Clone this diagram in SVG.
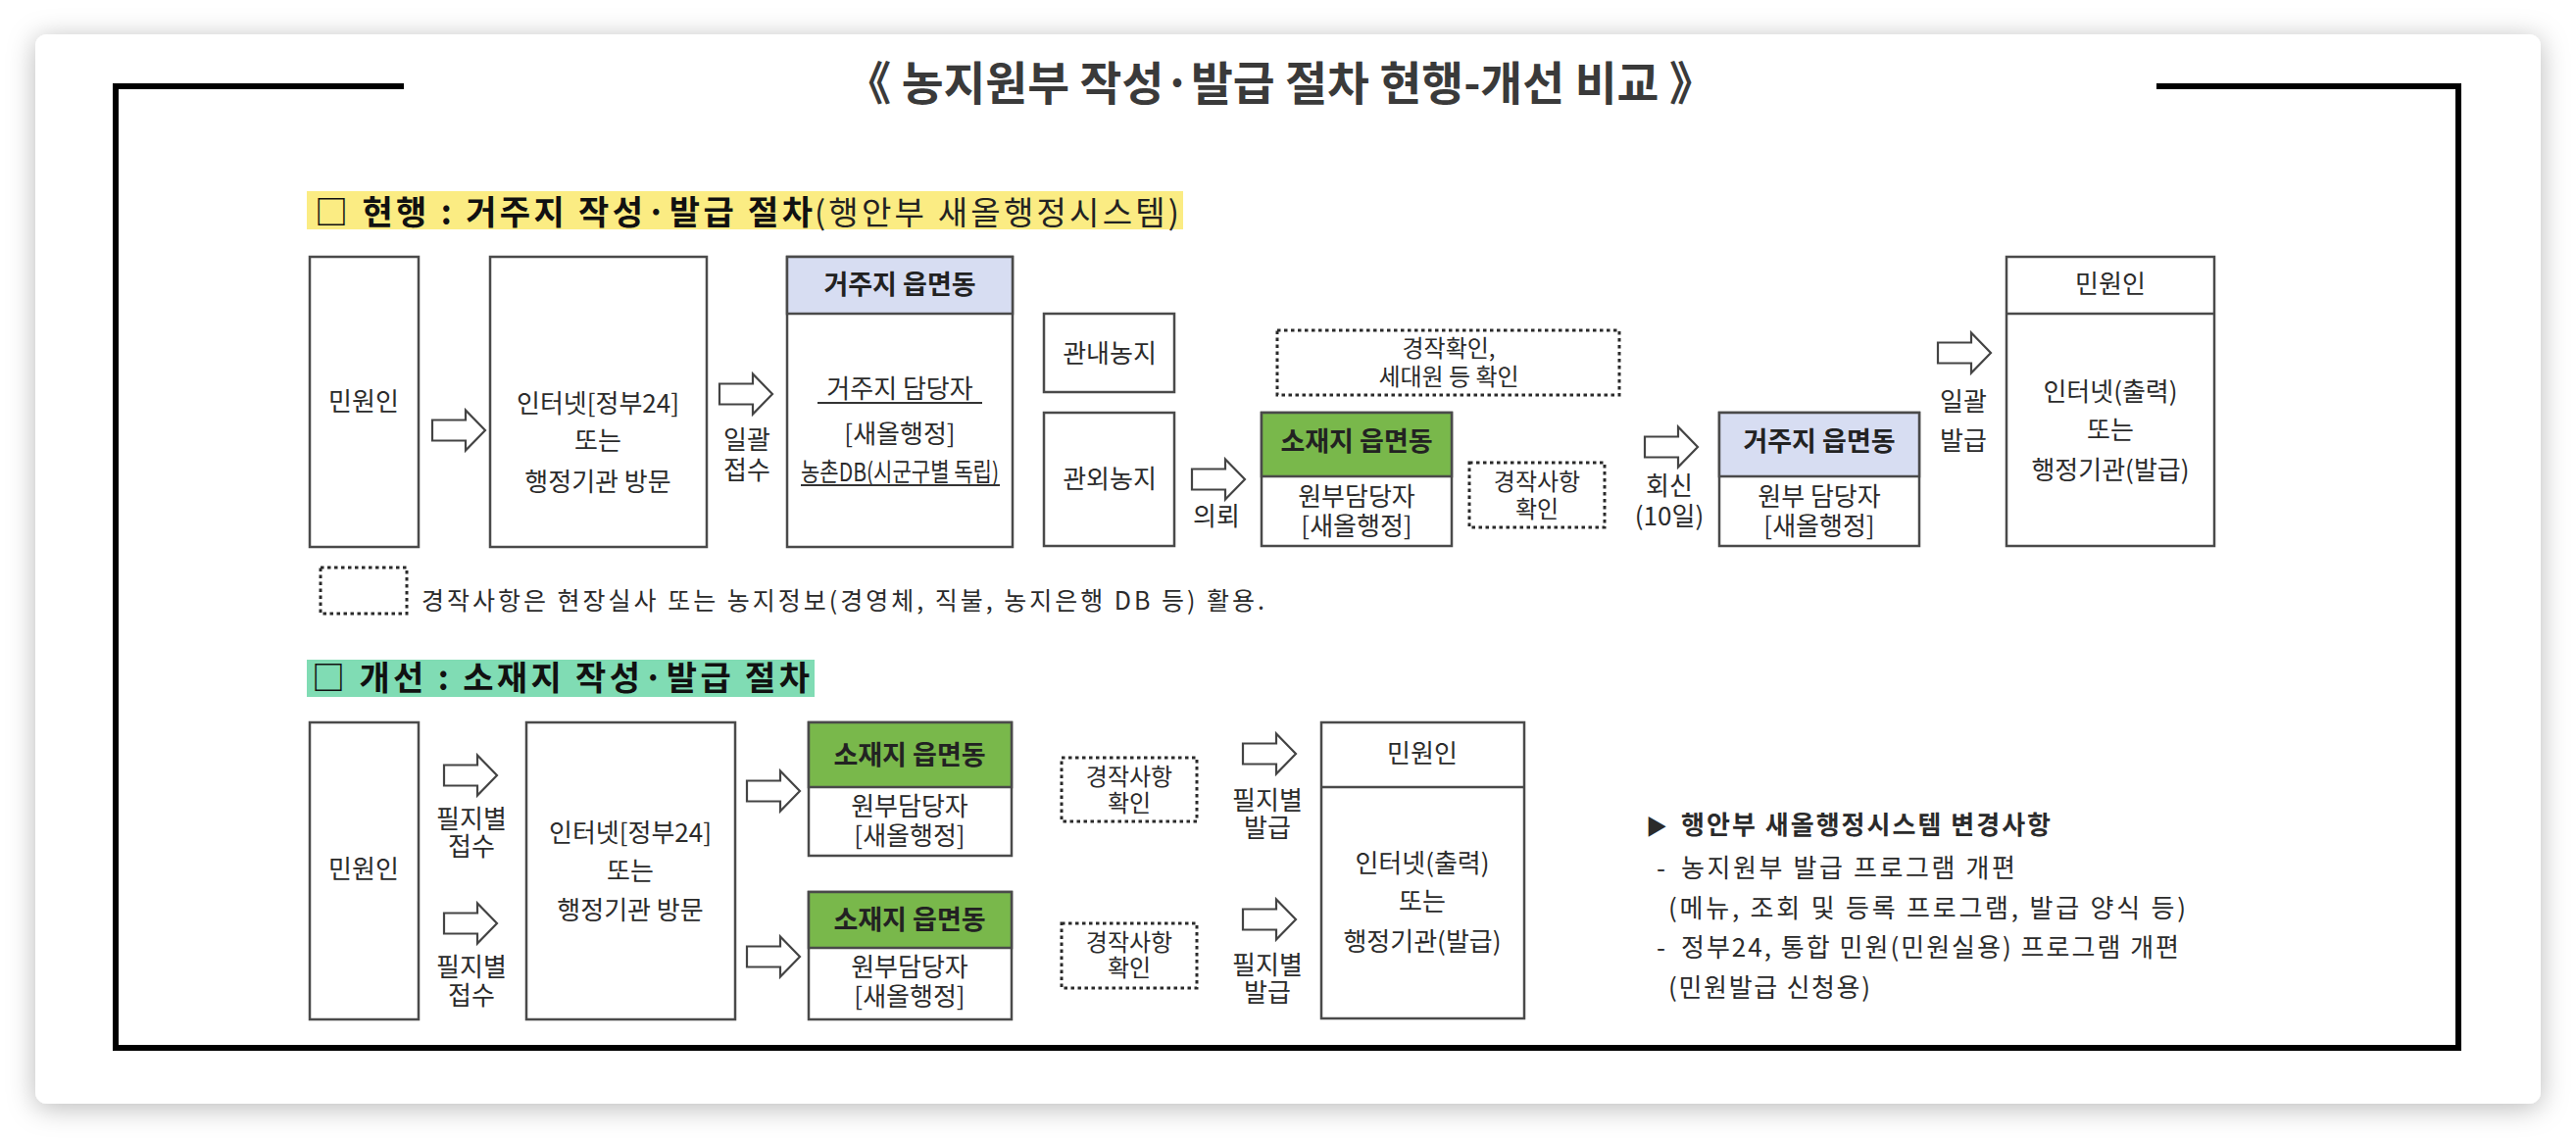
<svg xmlns="http://www.w3.org/2000/svg" width="2628" height="1162" viewBox="0 0 2628 1162">
<defs>
<filter id="sh" x="-5%" y="-10%" width="110%" height="120%">
<feDropShadow dx="0" dy="4" stdDeviation="14" flood-color="#000" flood-opacity="0.28"/>
</filter>
<path id="arr" d="M0,-10.5 H34 V-20.5 L54,0 L34,20.5 V10.5 H0 Z" fill="#fff" stroke="#444" stroke-width="2.2" stroke-linejoin="miter"/>
<style>
.t{font-family:"Noto Sans CJK KR","Noto Sans",sans-serif;font-size:26px;fill:#2b2b2b;text-anchor:middle}
.s{text-anchor:start}
.b{font-weight:bold}
.hd{font-size:27px;font-weight:bold;fill:#222}
.sm{font-size:24px}
.box{fill:#fff;stroke:#4a4a4a;stroke-width:2.5}
.dot{fill:none;stroke:#2a2a2a;stroke-width:3;stroke-dasharray:3.5 3.5}
.ul{stroke:#333;stroke-width:2}
.blue{fill:#d7ddf2;stroke:#4a4a4a;stroke-width:2.5}
.green{fill:#79b84b;stroke:#4a4a4a;stroke-width:2.5}
</style>
</defs>
<rect width="2628" height="1162" fill="#ffffff"/>
<rect x="36" y="35" width="2556" height="1091" rx="12" fill="#fff" filter="url(#sh)"/>
<path d="M412,88 H118 V1069 H2508 V88 H2200" fill="none" stroke="#000" stroke-width="6"/>
<text class="t b" x="1306" y="102" textLength="887" lengthAdjust="spacingAndGlyphs" style="font-size:47px;fill:#3a3a3a">《 농지원부 작성·발급 절차 현행-개선 비교 》</text>

<g id="heading1">
<rect x="313" y="195" width="894" height="39" fill="#fbec83"/>
<text class="t s b" x="321" y="229" style="font-size:34px;fill:#111" textLength="508" lengthAdjust="spacing">□ 현행 : 거주지 작성·발급 절차</text>
<text class="t s" x="831" y="229" style="font-size:33px;fill:#222" textLength="372" lengthAdjust="spacing">(행안부 새올행정시스템)</text>
</g>

<g id="s1-minwon">
<rect class="box" x="316" y="262" width="111" height="296"/>
<text class="t" x="371" y="419">민원인</text>
</g>
<g id="s1-internet">
<rect class="box" x="500" y="262" width="221" height="296"/>
<text class="t" x="610" y="421">인터넷[정부24]</text>
<text class="t" x="610" y="459">또는</text>
<text class="t" x="610" y="501">행정기관 방문</text>
</g>
<g id="s1-geoju">
<rect class="box" x="803" y="262" width="230" height="296"/>
<rect class="blue" x="803" y="262" width="230" height="58"/>
<text class="t hd" x="918" y="300">거주지 읍면동</text>
<text class="t" x="918" y="406">거주지 담당자</text>
<line class="ul" x1="834" y1="411" x2="1002" y2="411"/>
<text class="t" x="918" y="452">[새올행정]</text>
<text class="t" x="918" y="491" textLength="202" lengthAdjust="spacingAndGlyphs">농촌DB(시군구별 독립)</text>
<line class="ul" x1="817" y1="495" x2="1020" y2="495"/>
</g>
<g id="s1-gwannae">
<rect class="box" x="1065" y="320" width="133" height="80"/>
<text class="t" x="1132" y="370">관내농지</text>
</g>
<g id="s1-gwanoe">
<rect class="box" x="1065" y="421" width="133" height="136"/>
<text class="t" x="1132" y="498">관외농지</text>
</g>
<g id="s1-check1">
<rect class="dot" x="1303" y="337" width="349" height="66"/>
<text class="t sm" x="1478" y="364">경작확인,</text>
<text class="t sm" x="1478" y="393">세대원 등 확인</text>
</g>
<g id="s1-sojae">
<rect class="box" x="1287" y="421" width="194" height="136"/>
<rect class="green" x="1287" y="421" width="194" height="65"/>
<text class="t hd" x="1384" y="460">소재지 읍면동</text>
<text class="t" x="1384" y="516">원부담당자</text>
<text class="t" x="1384" y="546">[새올행정]</text>
</g>
<g id="s1-check2">
<rect class="dot" x="1499" y="472" width="138" height="66"/>
<text class="t sm" x="1568" y="500">경작사항</text>
<text class="t sm" x="1568" y="528">확인</text>
</g>
<g id="s1-geoju2">
<rect class="box" x="1754" y="421" width="204" height="136"/>
<rect class="blue" x="1754" y="421" width="204" height="65"/>
<text class="t hd" x="1856" y="460">거주지 읍면동</text>
<text class="t" x="1856" y="516">원부 담당자</text>
<text class="t" x="1856" y="546">[새올행정]</text>
</g>
<g id="s1-minwon2">
<rect class="box" x="2047" y="262" width="212" height="295"/>
<line x1="2047" y1="320" x2="2259" y2="320" stroke="#4a4a4a" stroke-width="2.5"/>
<text class="t" x="2153" y="299">민원인</text>
<text class="t" x="2153" y="409">인터넷(출력)</text>
<text class="t" x="2153" y="448">또는</text>
<text class="t" x="2153" y="489">행정기관(발급)</text>
</g>

<g id="legend">
<rect class="dot" x="327" y="579" width="88" height="47"/>
<text class="t s" x="430" y="622" style="font-size:25px" textLength="860" lengthAdjust="spacing">경작사항은 현장실사 또는 농지정보(경영체, 직불, 농지은행 DB 등) 활용.</text>
</g>

<g id="heading2">
<rect x="313" y="673" width="518" height="38" fill="#80dcb4"/>
<text class="t s b" x="318" y="704" style="font-size:34px;fill:#111" textLength="508" lengthAdjust="spacing">□ 개선 : 소재지 작성·발급 절차</text>
</g>

<g id="s2-minwon">
<rect class="box" x="316" y="737" width="111" height="303"/>
<text class="t" x="371" y="896">민원인</text>
</g>
<g id="s2-internet">
<rect class="box" x="537" y="737" width="213" height="303"/>
<text class="t" x="643" y="859">인터넷[정부24]</text>
<text class="t" x="643" y="898">또는</text>
<text class="t" x="643" y="938">행정기관 방문</text>
</g>
<g id="s2-sojae1">
<rect class="box" x="825" y="737" width="207" height="136"/>
<rect class="green" x="825" y="737" width="207" height="66"/>
<text class="t hd" x="928" y="780">소재지 읍면동</text>
<text class="t" x="928" y="832">원부담당자</text>
<text class="t" x="928" y="862">[새올행정]</text>
</g>
<g id="s2-sojae2">
<rect class="box" x="825" y="910" width="207" height="130"/>
<rect class="green" x="825" y="910" width="207" height="57"/>
<text class="t hd" x="928" y="948">소재지 읍면동</text>
<text class="t" x="928" y="996">원부담당자</text>
<text class="t" x="928" y="1026">[새올행정]</text>
</g>
<g id="s2-check1">
<rect class="dot" x="1083" y="773" width="138" height="65"/>
<text class="t sm" x="1152" y="801">경작사항</text>
<text class="t sm" x="1152" y="828">확인</text>
</g>
<g id="s2-check2">
<rect class="dot" x="1083" y="942" width="138" height="66"/>
<text class="t sm" x="1152" y="970">경작사항</text>
<text class="t sm" x="1152" y="996">확인</text>
</g>
<g id="s2-minwon2">
<rect class="box" x="1348" y="737" width="207" height="302"/>
<line x1="1348" y1="803" x2="1555" y2="803" stroke="#4a4a4a" stroke-width="2.5"/>
<text class="t" x="1451" y="778">민원인</text>
<text class="t" x="1451" y="890">인터넷(출력)</text>
<text class="t" x="1451" y="929">또는</text>
<text class="t" x="1451" y="970">행정기관(발급)</text>
</g>

<g id="notes">
<text class="t s b" x="1679" y="851" style="font-size:22px">▶</text>
<text class="t s b" x="1715" y="851" textLength="377" lengthAdjust="spacing">행안부 새올행정시스템 변경사항</text>
<text class="t s" x="1690" y="895">-</text>
<text class="t s" x="1715" y="895" textLength="341" lengthAdjust="spacing">농지원부 발급 프로그램 개편</text>
<text class="t s" x="1702" y="936" textLength="528" lengthAdjust="spacing">(메뉴, 조회 및 등록 프로그램, 발급 양식 등)</text>
<text class="t s" x="1690" y="976">-</text>
<text class="t s" x="1715" y="976" textLength="508" lengthAdjust="spacing">정부24, 통합 민원(민원실용) 프로그램 개편</text>
<text class="t s" x="1702" y="1017" textLength="206" lengthAdjust="spacing">(민원발급 신청용)</text>
</g>

<g id="connectors">
<use href="#arr" x="441" y="439"/>
<use href="#arr" x="734" y="402"/>
<text class="t" x="762" y="458">일괄</text>
<text class="t" x="762" y="489">접수</text>
<use href="#arr" x="1216" y="489"/>
<text class="t" x="1241" y="536">의뢰</text>
<use href="#arr" x="1678" y="456"/>
<text class="t" x="1703" y="505">회신</text>
<text class="t" x="1703" y="536">(10일)</text>
<use href="#arr" x="1977" y="360"/>
<text class="t" x="2003" y="419">일괄</text>
<text class="t" x="2003" y="459">발급</text>

<use href="#arr" x="453" y="791"/>
<text class="t" x="481" y="845">필지별</text>
<text class="t" x="481" y="873">접수</text>
<use href="#arr" x="453" y="942"/>
<text class="t" x="481" y="996">필지별</text>
<text class="t" x="481" y="1025">접수</text>
<use href="#arr" x="762" y="807"/>
<use href="#arr" x="762" y="976"/>
<use href="#arr" x="1268" y="769"/>
<text class="t" x="1293" y="826">필지별</text>
<text class="t" x="1293" y="854">발급</text>
<use href="#arr" x="1268" y="938"/>
<text class="t" x="1293" y="994">필지별</text>
<text class="t" x="1293" y="1022">발급</text>
</g>
</svg>
